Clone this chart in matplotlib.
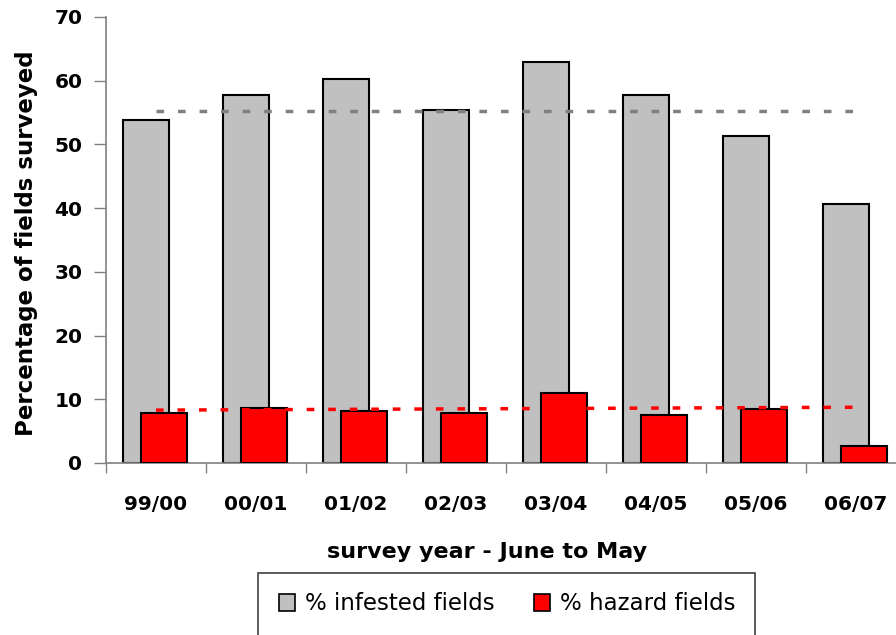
import numpy as np
import matplotlib
matplotlib.use("Agg")
import matplotlib.pyplot as plt
from matplotlib.patches import Rectangle, Patch

years = ["99/00", "00/01", "01/02", "02/03", "03/04", "04/05", "05/06", "06/07"]
infested = [53.8, 57.8, 60.3, 55.4, 62.9, 57.8, 51.4, 40.7]
hazard = [7.9, 8.6, 8.1, 7.9, 11.0, 7.6, 8.4, 2.6]
# trend lines, first and last survey year
infested_trend = [55.3, 55.3]
hazard_trend = [8.3, 8.75]

plt.rcParams['font.family'] = ['DejaVu Sans']

fig = plt.figure(figsize=(8.96, 6.35), dpi=100)
ax = fig.add_axes([106/896, 1-463/635, 800/896, 446/635])

x = np.arange(len(years))
w = 0.46
ax.bar(x - 0.105, infested, w, color='#c0c0c0', edgecolor='black', linewidth=1.5, zorder=2)
ax.bar(x + 0.08, hazard, w, color='#ff0000', edgecolor='black', linewidth=1.5, zorder=3)

ax.plot([x[0], x[-1]], infested_trend, color='#808080', lw=2.5, dashes=(2.2, 4.0), zorder=4)
ax.plot([x[0], x[-1]], hazard_trend, color='#ff0000', lw=2.5, dashes=(2.2, 4.0), zorder=4)

ax.set_xlim(-0.5, 7.5)
ax.set_ylim(0, 70)
ax.set_yticks(range(0, 71, 10))
ax.set_xticks(np.arange(-0.5, 7.5, 1))
ax.set_xticklabels([])
ax.set_xticks(x, minor=True)
ax.set_xticklabels(years, minor=True)
ax.tick_params(axis='x', which='minor', length=0, pad=23, labelsize=14.5)
ax.tick_params(axis='x', which='major', length=7, width=1, color='#808080', direction='out')
ax.tick_params(axis='y', length=9, width=1, color='#808080', pad=8, labelsize=14.5)
for lab in ax.get_xticklabels(minor=True) + ax.get_yticklabels():
    lab.set_fontweight('bold')

for s in ['top', 'right']:
    ax.spines[s].set_visible(False)
for s in ['left', 'bottom']:
    ax.spines[s].set_color('#808080')
    ax.spines[s].set_linewidth(1.2)

fig.text(487/896, 1-552/635, 'survey year - June to May', ha='center', va='center',
         fontsize=16, fontweight='bold')
fig.text(27/896, 1-243/635, 'Percentage of fields surveyed', ha='center', va='center',
         rotation=90, fontsize=16.5, fontweight='bold')

# legend box runs off the bottom edge
fig.patches.append(Rectangle((258/896, -0.05), (755-258)/896, 0.05+1-573/635,
                             transform=fig.transFigure, fill=False,
                             edgecolor='#404040', linewidth=1.2))
handles = [Patch(facecolor='#c0c0c0', edgecolor='black', linewidth=1.2),
           Patch(facecolor='#ff0000', edgecolor='black', linewidth=1.2)]
fig.legend(handles, ['% infested fields', '% hazard fields'], loc='center',
           bbox_to_anchor=(507/896, 1-604/635), ncol=2, frameon=False,
           fontsize=16.5, handlelength=0.7, handleheight=0.7,
           handletextpad=0.45, columnspacing=1.7)

fig.savefig('out.png', dpi=100)
